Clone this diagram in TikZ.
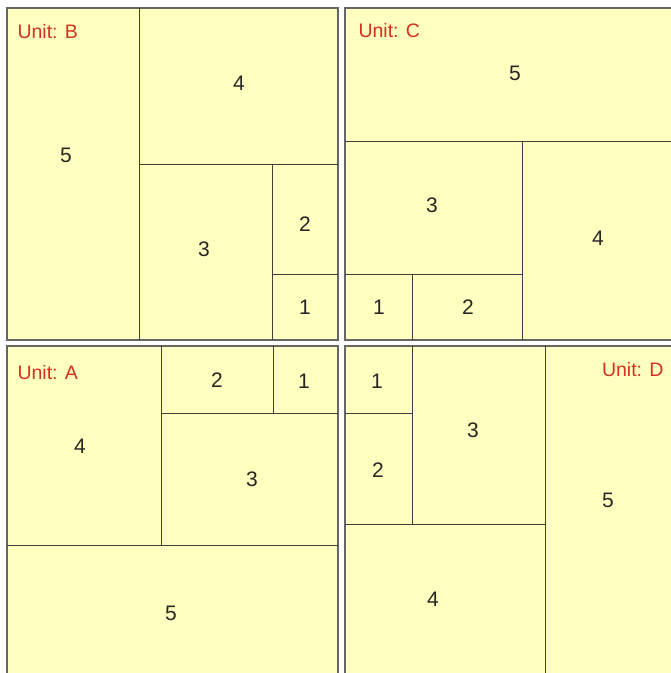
\documentclass[tikz,border=0pt]{standalone}
\usepackage{fontspec}
\setmainfont{Liberation Sans}
\definecolor{paper}{HTML}{FFFFC0}
\definecolor{unitred}{HTML}{D2321E}
\begin{document}
\begin{tikzpicture}[x=1pt, y=-1pt,
  panel/.style={fill=paper, draw=gray!80!black, line width=2pt},
  cut/.style={draw=black!75, line width=0.9pt},
  num/.style={font=\fontsize{21}{21}\selectfont, text=black!85},
  unitlabel/.style={font=\fontsize{19.5}{19.5}\selectfont, text=unitred}]
  \useasboundingbox (0,0) rectangle (671,673);
  \clip (0,0) rectangle (671,673);

  % Unit B (top left)
  \draw[panel] (7,8) rectangle (338,340);
  \draw[cut] (139,8) -- (139,340) (139,164) -- (338,164)
             (272,164) -- (272,340) (272,274) -- (338,274);
  \node[unitlabel, anchor=west] (unitB) at (14,32) {Unit: B};
  \node[num] (b5) at (66,155) {5};
  \node[num] (b4) at (239,83) {4};
  \node[num] (b3) at (204,249) {3};
  \node[num] (b2) at (305,224) {2};
  \node[num] (b1) at (305,307) {1};

  % Unit C (top right)
  \draw[panel] (345,8) rectangle (690,340);
  \draw[cut] (345,141) -- (690,141) (522,141) -- (522,340)
             (345,274) -- (522,274) (412,274) -- (412,340);
  \node[unitlabel, anchor=west] (unitC) at (355,31) {Unit: C};
  \node[num] (c5) at (515,73) {5};
  \node[num] (c3) at (432,205) {3};
  \node[num] (c4) at (598,238) {4};
  \node[num] (c1) at (379,307) {1};
  \node[num] (c2) at (468,307) {2};

  % Unit A (bottom left)
  \draw[panel] (7,346) rectangle (338,690);
  \draw[cut] (161,346) -- (161,545) (161,413) -- (338,413)
             (273,346) -- (273,413) (7,545) -- (338,545);
  \node[unitlabel, anchor=west] (unitA) at (14,373) {Unit: A};
  \node[num] (a2) at (217,380) {2};
  \node[num] (a1) at (304,381) {1};
  \node[num] (a4) at (80,446) {4};
  \node[num] (a3) at (252,479) {3};
  \node[num] (a5) at (171,613) {5};

  % Unit D (bottom right)
  \draw[panel] (345,346) rectangle (690,690);
  \draw[cut] (545,346) -- (545,690) (412,346) -- (412,524)
             (345,413) -- (412,413) (345,524) -- (545,524);
  \node[unitlabel, anchor=east] (unitD) at (667,370) {Unit: D};
  \node[num] (d1) at (377,381) {1};
  \node[num] (d2) at (378,470) {2};
  \node[num] (d3) at (473,430) {3};
  \node[num] (d4) at (433,599) {4};
  \node[num] (d5) at (608,500) {5};
\end{tikzpicture}
\end{document}
